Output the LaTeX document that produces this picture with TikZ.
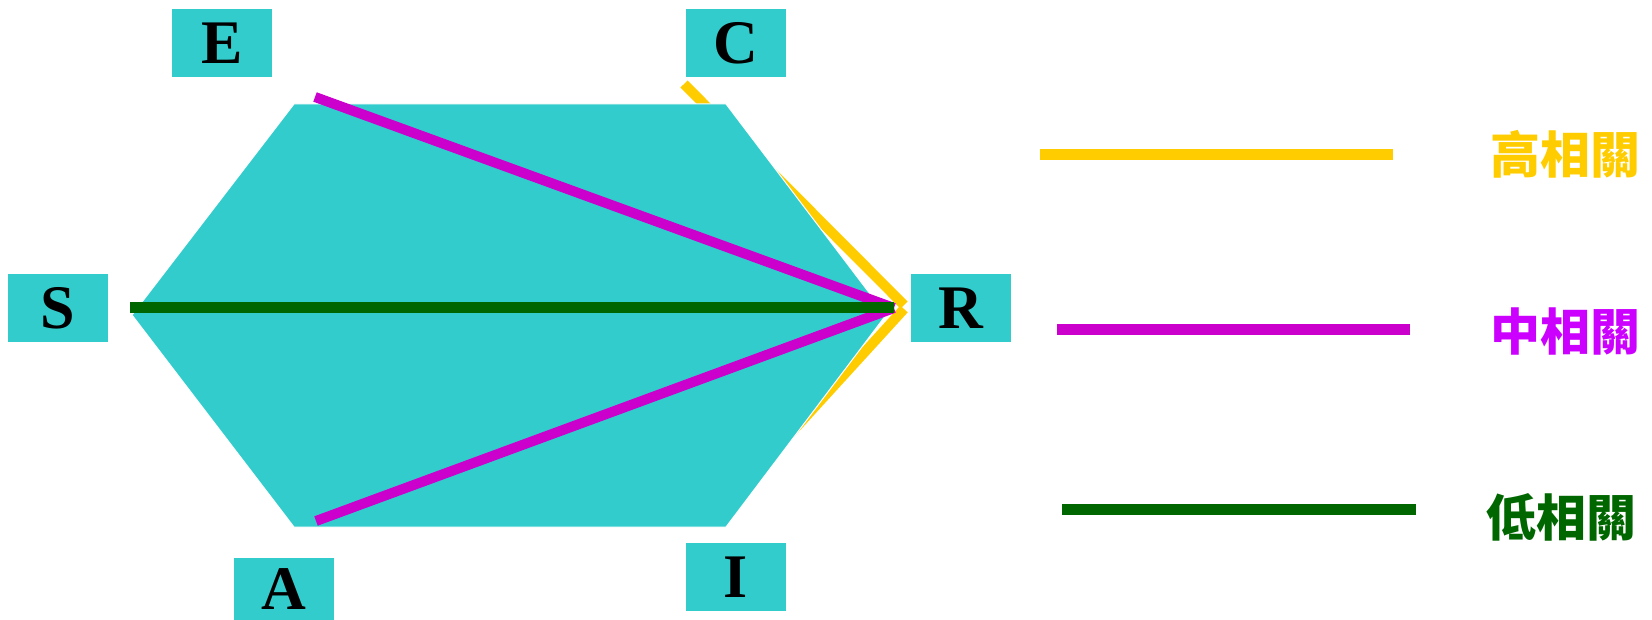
\documentclass[tikz,border=0pt]{standalone}
\usepackage{fontspec}
\setmainfont{Liberation Serif}
\newfontfamily\cjk{Noto Sans CJK TC}
\definecolor{teal1}{HTML}{33CCCC}
\definecolor{yel}{HTML}{FFCC00}
\definecolor{mag}{HTML}{CC00CC}
\definecolor{magtxt}{HTML}{CC00FF}
\definecolor{grn}{HTML}{006600}
\tikzset{
  lbox/.style={fill=teal1, minimum width=100pt, minimum height=68pt, inner sep=0pt,
    font=\fontsize{62}{62}\selectfont\bfseries},
  hiline/.style={draw=yel, line width=10pt},
  midline/.style={draw=mag, line width=10pt},
  lowline/.style={draw=grn, line width=11pt},
  legtxt/.style={inner sep=0pt, font=\cjk\bfseries\fontsize{50}{50}\selectfont}
}
\begin{document}
\begin{tikzpicture}[x=1pt,y=-1pt]
\useasboundingbox (0,0) rectangle (1652,620);
% label boxes
\node[lbox] (E) at (222,43) {E};
\node[lbox] (C) at (736,43) {C};
\node[lbox] (S) at (58,308) {S};
\node[lbox] (R) at (961,308) {R};
\node[lbox, minimum height=62pt] (A) at (284,589) {A};
\node[lbox] (I) at (736,577) {I};
% endpoints
\coordinate (c1) at (684,84);
\coordinate (r1) at (904,305);
\coordinate (r2) at (904,309);
\coordinate (i1) at (758,469);
\coordinate (hub) at (894,308);
\coordinate (e1) at (315,97);
\coordinate (a1) at (316,521);
\coordinate (s1) at (130,308);
% high correlation (behind hexagon)
\draw[hiline] (c1) -- (r1);
\draw[hiline] (r2) -- (i1);
% hexagon
\filldraw[fill=teal1, draw=white, line width=1pt] (294,104) coordinate (h1) -- (726,104) coordinate (h2) -- (886,315) coordinate (h3)
  -- (726,527) coordinate (h4) -- (294,527) coordinate (h5) -- (132,315) coordinate (h6) -- cycle;
% medium & low
\draw[midline] (e1) -- (hub);
\draw[midline] (a1) -- (hub);
\draw[lowline] (s1) -- (hub);
% legend
\coordinate (ly1) at (1040,155); \coordinate (ly2) at (1393,155);
\coordinate (lm1) at (1057,330); \coordinate (lm2) at (1410,330);
\coordinate (lg1) at (1062,509); \coordinate (lg2) at (1416,509);
\draw[hiline, line width=11pt] (ly1) -- (ly2);
\draw[midline, line width=11pt] (lm1) -- (lm2);
\draw[lowline] (lg1) -- (lg2);
\node[legtxt, text=yel] (t1) at (1565,154) {高相關};
\node[legtxt, text=magtxt] (t2) at (1565,331) {中相關};
\node[legtxt, text=grn] (t3) at (1561,517) {低相關};
\end{tikzpicture}
\end{document}
